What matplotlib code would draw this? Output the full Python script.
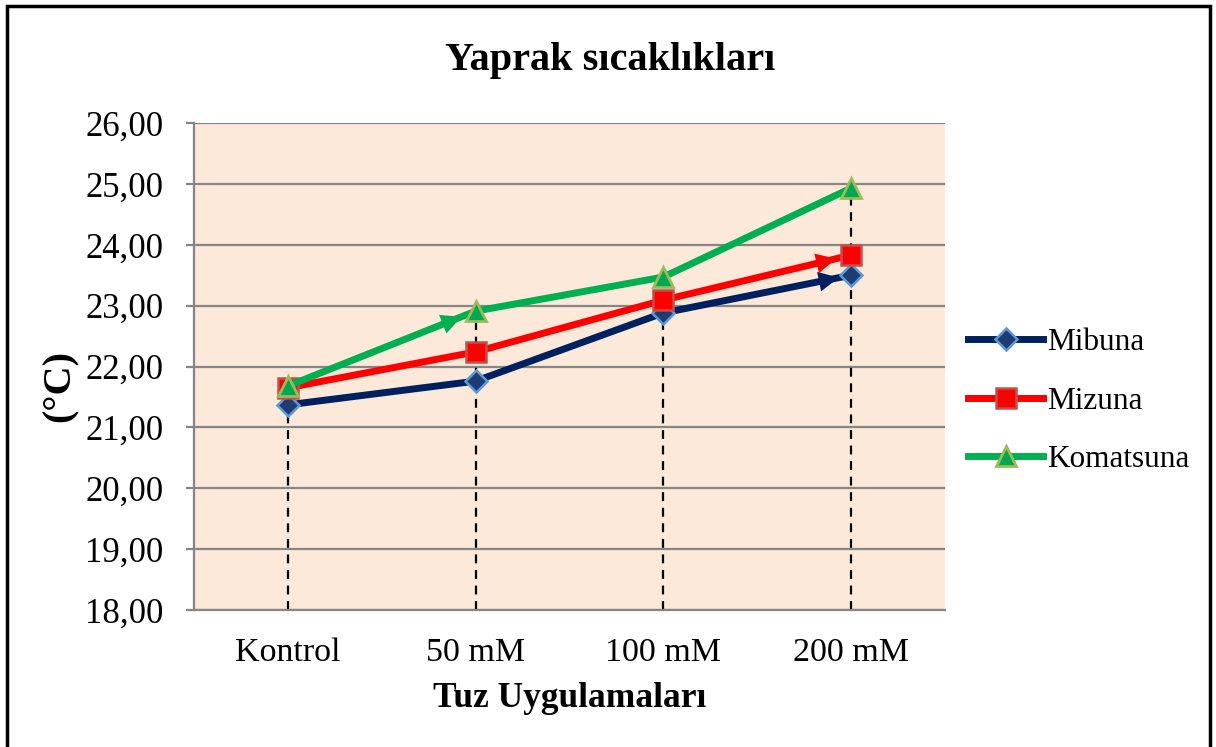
import matplotlib
matplotlib.use("Agg")
import matplotlib.pyplot as plt
from matplotlib.patches import Rectangle

# veriler
kategoriler = ["Kontrol", "50 mM", "100 mM", "200 mM"]
mibuna = [21.37, 21.76, 22.88, 23.50]
mizuna = [21.65, 22.24, 23.09, 23.83]
komatsuna = [21.68, 22.91, 23.47, 24.93]
y_ticks = [18, 19, 20, 21, 22, 23, 24, 25, 26]

plt.rcParams['font.family'] = ['Liberation Serif', 'DejaVu Serif']

fig = plt.figure(figsize=(12.16, 7.47), dpi=100, facecolor='white')
ax = fig.add_axes([0.1595, 0.1834, 0.6175, 0.6519])
ax.set_facecolor('#FDE9D9')

x = list(range(len(kategoriler)))

# grid
for v in y_ticks:
    ax.axhline(v, color='#868686', lw=1.6, zorder=1)

# drop lines
tepe = [max(a, b, c) for a, b, c in zip(mibuna, mizuna, komatsuna)]
ax.vlines(x, 18, tepe, colors='black', linestyles=(0, (4, 3)), lw=1.6, zorder=2)

ax.plot(x, mibuna, color='#002060', lw=5, marker='D', markersize=11,
        markerfacecolor='#1F3B73', markeredgecolor='#5B9BD5', markeredgewidth=1.8,
        label='Mibuna', zorder=3)
ax.plot(x, mizuna, color='#FF0000', lw=5, marker='s', markersize=15,
        markerfacecolor='#FF0000', markeredgecolor='#C0504D', markeredgewidth=1.8,
        label='Mizuna', zorder=4)
ax.plot(x, komatsuna, color='#00B050', lw=5, marker='^', markersize=15,
        markerfacecolor='#00A850', markeredgecolor='#9BBB59', markeredgewidth=2,
        label='Komatsuna', zorder=5)

# ok uclari
ax.annotate('', xy=(x[3], mibuna[3]), xytext=(x[2], mibuna[2]),
            arrowprops=dict(arrowstyle='-|>', color='#002060', lw=0, mutation_scale=36,
                            shrinkA=0, shrinkB=9), zorder=3)
ax.annotate('', xy=(x[3], mizuna[3]), xytext=(x[2], mizuna[2]),
            arrowprops=dict(arrowstyle='-|>', color='#FF0000', lw=0, mutation_scale=36,
                            shrinkA=0, shrinkB=11), zorder=4)
ax.annotate('', xy=(x[1], komatsuna[1]), xytext=(x[0], komatsuna[0]),
            arrowprops=dict(arrowstyle='-|>', color='#00B050', lw=0, mutation_scale=36,
                            shrinkA=0, shrinkB=11), zorder=5)

ax.set_xlim(-0.5, 3.5)
ax.set_ylim(18, 26)
ax.set_xticks(x)
ax.set_xticklabels(kategoriler, fontsize=24.5)
ax.set_yticks(y_ticks)
ax.set_yticklabels(['%d,00' % v for v in y_ticks], fontsize=25)
ax.tick_params(axis='x', length=0, pad=20)
ax.tick_params(axis='y', length=6, width=1.6, color='#868686', pad=16)

for s in ['top', 'right']:
    ax.spines[s].set_visible(False)
for s in ['left', 'bottom']:
    ax.spines[s].set_color('#868686')
    ax.spines[s].set_linewidth(1.6)

fig.text(0.502, 0.919, 'Yaprak sıcaklıkları', fontsize=29, weight='bold',
         ha='center', va='center')
ax.set_xlabel('Tuz Uygulamaları', fontsize=25.5, weight='bold', labelpad=10)
ax.set_ylabel('(°C)', fontsize=29, weight='bold')
ax.yaxis.set_label_coords(-0.153, 0.46)

ax.legend(loc='center left', bbox_to_anchor=(0.773, 0.463), bbox_transform=fig.transFigure,
          frameon=False, fontsize=22.5, handlelength=2.4, labelspacing=0.95,
          handletextpad=0.12)

fig.patches.append(Rectangle((0.006, -0.01), 0.989, 1.002, transform=fig.transFigure,
                             fill=False, edgecolor='black', lw=2.5))

fig.savefig('out.png', dpi=100)
